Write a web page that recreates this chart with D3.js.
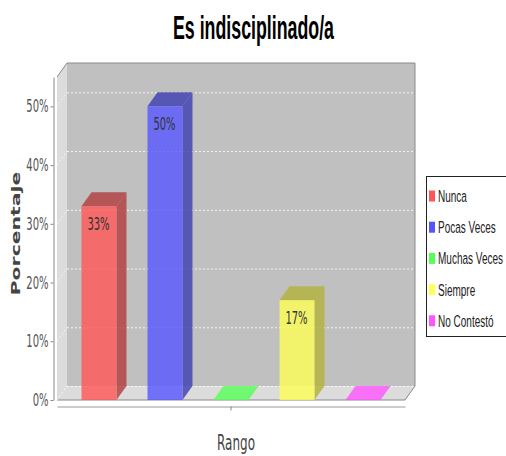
<!DOCTYPE html>
<html><head><meta charset="utf-8">
<script src="https://cdn.jsdelivr.net/npm/d3@7"></script>
<style>body{margin:0;background:#fff}svg{display:block}</style>
</head><body>
<svg id="c" width="506" height="456"></svg>
<script>
const title = "Es indisciplinado/a";
const category = "Rango";
const series = ["Nunca", "Pocas Veces", "Muchas Veces", "Siempre", "No Contestó"];
const values = [0.33, 0.50, 0.00, 0.17, 0.00];
const barLabels = ["33%", "50%", "", "17%", ""];
const seriesColors = ["#ff5555", "#5555ff", "#55ff55", "#ffff55", "#ff55ff"];
const yTicks = [0, 0.1, 0.2, 0.3, 0.4, 0.5];
const yLabel = "Porcentaje";

(function () {
const svg = d3.select("#c");
const SY = 1.7;           // vertical stretch of the source image
const DX = 10, DY = 14;   // 3D depth offset
const pL = 57, pR = 405, pT = 77, pB = 400;

const y = d3.scaleLinear().domain([0, 0.55]).range([pB, pT]);
const xCat = d3.scaleBand().domain([category]).range([pL, pR]);
const xSer = d3.scaleBand().domain(series).range([pL, pR]).paddingInner(0.47).paddingOuter(0.371);

// walls
const wall = svg.append("g");
wall.append("rect").attr("x", pL + DX).attr("y", pT - DY)
  .attr("width", pR - pL).attr("height", pB - pT).attr("fill", "#c0c0c0");
wall.append("path").attr("fill", "#dcdcdc")
  .attr("d", `M${pL},${pT}L${pL+DX},${pT-DY}L${pL+DX},${pB-DY}L${pL},${pB}Z`);
wall.append("path").attr("fill", "#dcdcdc")
  .attr("d", `M${pL},${pB}L${pL+DX},${pB-DY}L${pR+DX},${pB-DY}L${pR},${pB}Z`);

// gridlines
const grid = svg.append("g");
yTicks.forEach(t => {
  const yy = y(t) - DY + 0.5;
  grid.append("line").attr("x1", pL + DX).attr("x2", pR + DX).attr("y1", yy).attr("y2", yy)
    .attr("stroke", "#ffffff").attr("stroke-dasharray", "2,2").attr("opacity", 0.85);
  grid.append("line").attr("x1", pL).attr("x2", pL + DX).attr("y1", y(t)).attr("y2", y(t) - DY)
    .attr("stroke", "#ffffff").attr("stroke-dasharray", "2,2").attr("opacity", 0.7);
});

// outline
wall.append("path").attr("fill", "none").attr("stroke", "#8a8a8a")
  .attr("d", `M${pL},${pT}L${pL+DX},${pT-DY}L${pR+DX},${pT-DY}L${pR+DX},${pB-DY}L${pR},${pB}L${pL},${pB}`);

// bars
const bars = svg.append("g");
series.forEach((s, i) => {
  const v = values[i];
  const x0 = xSer(s), w = xSer.bandwidth();
  const yt = y(v);
  const base = d3.color(seriesColors[i]);
  const dark = base.darker(1.03);
  bars.append("path").attr("fill", v === 0 ? base : dark).attr("fill-opacity", 0.8)
    .attr("d", `M${x0},${yt}L${x0+DX},${yt-DY}L${x0+w+DX},${yt-DY}L${x0+w},${yt}Z`);
  if (v > 0) {
    bars.append("path").attr("fill", dark).attr("fill-opacity", 0.8)
      .attr("d", `M${x0+w},${yt}L${x0+w+DX},${yt-DY}L${x0+w+DX},${pB-DY}L${x0+w},${pB}Z`);
    bars.append("rect").attr("x", x0).attr("y", yt).attr("width", w).attr("height", pB - yt)
      .attr("fill", base).attr("fill-opacity", 0.8);
  }
  if (barLabels[i]) {
    bars.append("text").attr("transform", `translate(${x0 + w/2 - 0.5},${yt + 23.5}) scale(1,${SY})`)
      .attr("text-anchor", "middle").attr("font-family", "DejaVu Sans").attr("font-size", 10)
      .attr("fill", "#333").text(barLabels[i]);
  }
});

// y axis
const ya = svg.append("g").attr("transform", "translate(53.5,0)")
  .call(d3.axisLeft(y).tickValues(yTicks).tickFormat(d3.format(".0%")).tickSize(3).tickPadding(2).tickSizeOuter(0));
ya.select(".domain").attr("stroke", "#888");
ya.selectAll(".tick line").attr("stroke", "#888");
ya.selectAll(".tick text").attr("font-family", "DejaVu Sans").attr("font-size", 10).attr("fill", "#555")
  .attr("transform", `scale(1,${SY})`).attr("dy", "0.33em");

// x axis
const xa = svg.append("g").attr("transform", `translate(0,${pB + 6.5})`)
  .call(d3.axisBottom(xCat).tickSize(4).tickSizeOuter(0).tickFormat(""));
xa.select(".domain").attr("stroke", "#999");
xa.selectAll(".tick line").attr("stroke", "#888");

// axis labels
svg.append("text").attr("transform", `translate(236,450) scale(1,${SY})`)
  .attr("text-anchor", "middle").attr("font-family", "DejaVu Sans").attr("font-size", 12)
  .attr("fill", "#444").text(category);
svg.append("text").attr("transform", `translate(20,233.5) rotate(-90) scale(${SY},1)`)
  .attr("text-anchor", "middle").attr("font-family", "DejaVu Sans").attr("font-weight", "bold")
  .attr("font-size", 12).attr("fill", "#444").text(yLabel);

// title
svg.append("text").attr("transform", `translate(253.5,38.5) scale(1,${SY})`)
  .attr("text-anchor", "middle").attr("font-family", "Liberation Sans").attr("font-weight", "bold")
  .attr("font-size", 19).attr("textLength", 161).attr("lengthAdjust", "spacingAndGlyphs")
  .attr("fill", "#000").text(title);

// legend
const lg = svg.append("g");
lg.append("rect").attr("x", 426.5).attr("y", 176.5).attr("width", 100).attr("height", 160)
  .attr("fill", "#fff").attr("stroke", "#222");
series.forEach((s, i) => {
  const cy = 196 + i * 31.2;
  lg.append("rect").attr("x", 429).attr("y", cy - 5.5).attr("width", 6).attr("height", 11)
    .attr("fill", seriesColors[i]);
  lg.append("text").attr("transform", `translate(438,${cy + 6}) scale(1,${SY})`)
    .attr("font-family", "Liberation Sans").attr("font-size", 10).attr("fill", "#222").text(s);
});
})();
</script>
</body></html>
